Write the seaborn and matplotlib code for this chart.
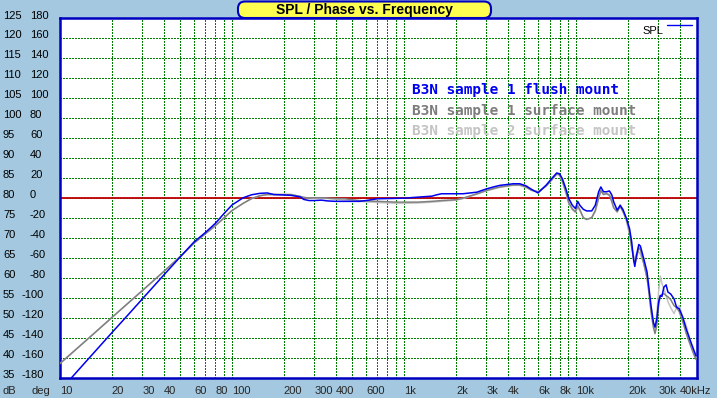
import numpy as np
import pandas as pd
import matplotlib
matplotlib.use("Agg")
import matplotlib.pyplot as plt
import seaborn as sns
from matplotlib import transforms as mtransforms
from matplotlib.patches import FancyBboxPatch
from matplotlib.lines import Line2D
from matplotlib.ticker import NullLocator

# ---------------- data ----------------
freq_hz = [
    10, 11.7, 15, 20, 25, 30, 40, 50, 60, 70,
    80, 90, 100, 116, 130, 145, 160, 175, 200, 220,
    250, 260, 280, 300, 330, 360, 400, 450, 500, 550,
    600, 700, 800, 900, 1000, 1200, 1450, 1550, 1650, 2000,
    2200, 2650, 3000, 3300, 3600, 4300, 4700, 5100, 5500, 6000,
    6200, 6700, 7200, 7700, 8000, 8300, 8700, 9050, 9500, 9900,
    10200, 10500, 11000, 11500, 12300, 12900, 13500, 13900, 14400, 15000,
    15600, 16100, 16500, 17300, 18000, 18700, 19600, 20400, 21000, 21500,
    21900, 22400, 23100, 23600, 24700, 25800, 26500, 27200, 28100, 28700,
    29400, 30100, 30800, 31500, 32300, 33300, 34100, 35400, 37000, 38300,
    39700, 41600, 43600, 45700, 48000, 49700,
]

spl_s1_flush = [
    31.7, 35.0, 40.2, 46.2, 50.8, 54.6, 60.6, 65.2, 68.9, 71.3,
    73.6, 76.1, 78.2, 80.0, 80.75, 81.1, 81.2, 80.8, 80.7, 80.6,
    80.2, 79.6, 79.3, 79.3, 79.4, 79.2, 79.1, 79.1, 79.1, 79.1,
    79.3, 79.75, 79.8, 79.85, 79.9, 80.15, 80.4, 80.75, 81.0, 81.0,
    81.0, 81.4, 82.2, 82.7, 83.1, 83.5, 83.5, 83.0, 82.1, 81.2,
    81.8, 83.2, 84.8, 86.2, 86.0, 84.8, 82.3, 79.8, 78.1, 77.3,
    79.1, 78.1, 77.1, 76.7, 76.7, 78.1, 81.5, 82.7, 81.5, 81.5,
    81.7, 80.7, 79.0, 76.9, 78.1, 77.0, 74.8, 72.3, 69.0, 64.7,
    62.8, 65.6, 68.3, 67.9, 64.7, 61.4, 57.2, 53.0, 48.8, 47.6,
    49.7, 53.9, 55.5, 55.3, 57.6, 58.2, 56.4, 55.9, 54.7, 52.6,
    52.2, 50.1, 47.1, 44.6, 42.1, 40.4,
]

spl_s1_surface = [
    38.5, 41.1, 45.2, 50.0, 53.7, 56.7, 61.5, 65.3, 68.6, 71.0,
    73.0, 75.0, 76.8, 78.6, 79.8, 80.5, 80.8, 80.8, 80.8, 80.8,
    80.3, 80.1, 79.9, 80.0, 80.0, 79.9, 79.8, 79.75, 79.5, 79.3,
    79.2, 79.1, 79.0, 78.9, 78.9, 78.9, 79.1, 79.2, 79.3, 79.5,
    79.9, 81.0, 81.8, 82.3, 82.7, 83.2, 83.2, 82.7, 81.9, 81.5,
    81.9, 83.0, 84.5, 86.0, 85.8, 84.3, 81.5, 78.8, 77.2, 76.5,
    78.0, 77.0, 75.0, 74.6, 75.0, 76.8, 80.0, 81.8, 80.8, 81.0,
    80.6, 79.0, 77.5, 76.5, 77.8, 76.5, 74.5, 71.5, 67.5, 65.0,
    63.5, 65.0, 67.5, 67.0, 63.5, 60.0, 56.0, 51.5, 47.5, 46.0,
    48.0, 53.0, 55.5, 55.8, 56.0, 55.5, 55.2, 54.5, 53.0, 52.5,
    51.5, 49.0, 46.0, 43.5, 41.0, 39.5,
]

spl_s2_surface = [
    38.5, 41.1, 45.2, 50.0, 53.7, 56.7, 61.5, 65.3, 68.6, 71.0,
    73.0, 75.0, 76.8, 78.6, 79.8, 80.5, 80.8, 80.8, 80.8, 80.8,
    80.3, 80.1, 79.9, 79.9, 79.9, 79.8, 79.6, 79.4, 79.2, 79.1,
    79.0, 78.8, 78.7, 78.6, 78.6, 78.7, 78.9, 79.0, 79.1, 79.4,
    79.8, 80.9, 81.7, 82.2, 82.6, 83.1, 83.1, 82.6, 81.8, 81.5,
    81.9, 82.9, 84.4, 85.8, 85.6, 84.0, 81.2, 78.5, 77.0, 76.3,
    77.6, 76.8, 75.0, 74.5, 75.0, 76.5, 79.8, 81.6, 81.0, 81.2,
    80.8, 79.4, 77.6, 76.4, 78.3, 77.0, 74.0, 70.8, 67.8, 65.5,
    64.8, 66.0, 66.5, 65.8, 63.5, 59.7, 56.5, 52.0, 48.5, 46.7,
    51.0, 56.4, 60.4, 58.5, 57.2, 55.5, 54.0, 52.5, 51.0, 52.5,
    53.0, 50.0, 48.0, 44.5, 41.5, 40.0,
]

series_names = ["B3N sample 1 flush mount", "B3N sample 1 surface mount", "B3N sample 2 surface mount"]
series_colors = ["#0000F0", "#808080", "#C4C4C4"]

db_ticks = list(range(35, 130, 5))
deg_ticks = list(range(-180, 200, 20))
grid_freqs = [10, 20, 30, 40, 50, 60, 70, 80, 90,
              100, 200, 300, 400, 500, 600, 700, 800, 900,
              1000, 2000, 3000, 4000, 5000, 6000, 7000, 8000, 9000,
              10000, 20000, 30000, 40000]
x_label_freqs = [10, 20, 30, 40, 60, 80, 100, 200, 300, 400, 600,
                 1000, 2000, 3000, 4000, 6000, 8000, 10000, 20000, 30000, 40000]
x_label_texts = ["10", "20", "30", "40", "60", "80", "100", "200", "300", "400", "600",
                 "1k", "2k", "3k", "4k", "6k", "8k", "10k", "20k", "30k", "40kHz"]

# ---------------- style ----------------
sns.set_theme(style="white")
plt.rcParams["font.family"] = ["Liberation Sans", "DejaVu Sans"]

W, H = 717, 398
BG = "#A3C8DF"
fig = plt.figure(figsize=(W / 100, H / 100), dpi=100, facecolor=BG)
ax = fig.add_axes([60 / W, 1 - 377.5 / H, (696.5 - 60) / W, (377.5 - 18) / H])
ax.set_facecolor("white")

df = pd.concat([
    pd.DataFrame({"freq": freq_hz, "spl": vals, "series": name})
    for name, vals in zip(series_names, [spl_s1_flush, spl_s1_surface, spl_s2_surface])
], ignore_index=True)

palette = dict(zip(series_names, series_colors))
sns.lineplot(data=df, x="freq", y="spl", hue="series",
             hue_order=[series_names[2], series_names[1], series_names[0]],
             palette=palette, legend=False, estimator=None, sort=False,
             linewidth=1.1, ax=ax, zorder=3)

ax.set_xscale("log")
ax.set_xlim(10, 50000)
ax.set_ylim(35, 125)
ax.set_xticks(grid_freqs)
ax.xaxis.set_minor_locator(NullLocator())
ax.set_yticks(db_ticks)
ax.yaxis.set_minor_locator(NullLocator())
ax.tick_params(length=0, labelbottom=False, labelleft=False)
ax.set_xlabel("")
ax.set_ylabel("")
ax.grid(True, which="major", color="#008000", linestyle=(0, (1, 1.6)), linewidth=0.8)
for gl in ax.get_xgridlines() + ax.get_ygridlines():
    gl.set_antialiased(False)
ax.set_axisbelow(True)
ax.axhline(80, color="#C00000", linewidth=1.3, zorder=2)

for s in ax.spines.values():
    s.set_visible(True)
    s.set_color("#0000C0")
    s.set_linewidth(1.8)

# y-axis label columns (dB and deg)
ytrans = mtransforms.blended_transform_factory(fig.transFigure, ax.transData) + \
    mtransforms.Affine2D().translate(0, 2.5)
for d, g in zip(db_ticks, deg_ticks):
    fig.text(3 / W, d, str(d), transform=ytrans, ha="left", va="center", fontsize=8, color="black")
    gs = str(g)
    gx = 30 if len(gs) <= 3 else 22
    fig.text(gx / W, d, gs, transform=ytrans, ha="left", va="center", fontsize=8, color="black")

ylab = 1 - 390.7 / H
fig.text(3 / W, ylab, "dB", ha="left", va="center", fontsize=8)
fig.text(31 / W, ylab, "deg", ha="left", va="center", fontsize=8)

xtrans = mtransforms.blended_transform_factory(ax.transData, fig.transFigure)
for f, t in zip(x_label_freqs, x_label_texts):
    ax.text(f, ylab, t, transform=xtrans, ha="left", va="center", fontsize=8, clip_on=False)

# title box
box = FancyBboxPatch((238, H - 18), 253, 16.5, boxstyle="round,pad=0,rounding_size=7",
                     transform=mtransforms.IdentityTransform(), facecolor="#FFFF50",
                     edgecolor="#0000C0", linewidth=1.5, zorder=10)
fig.add_artist(box)
fig.text(364.5 / W, 1 - 9.8 / H, "SPL / Phase vs. Frequency", ha="center", va="center",
         fontsize=10, fontweight="bold", color="black", zorder=11)

# legend
fig.text(642.7 / W, 1 - 31.5 / H, "SPL", ha="left", va="center", fontsize=8, color="black")
fig.add_artist(Line2D([666.7 / W, 691.7 / W], [1 - 25 / H, 1 - 25 / H], transform=fig.transFigure,
                      color="#0000F0", linewidth=1.0))

for name, col, yy in zip(series_names, ["#0000F0", "#7C7C7C", "#C4C4C4"], [90, 110.7, 130.7]):
    fig.text(411.7 / W, 1 - yy / H, name, ha="left", va="center", fontsize=10.4,
             family="DejaVu Sans Mono", fontweight="bold", color=col)

fig.savefig("out.png", dpi=100, facecolor=BG)
